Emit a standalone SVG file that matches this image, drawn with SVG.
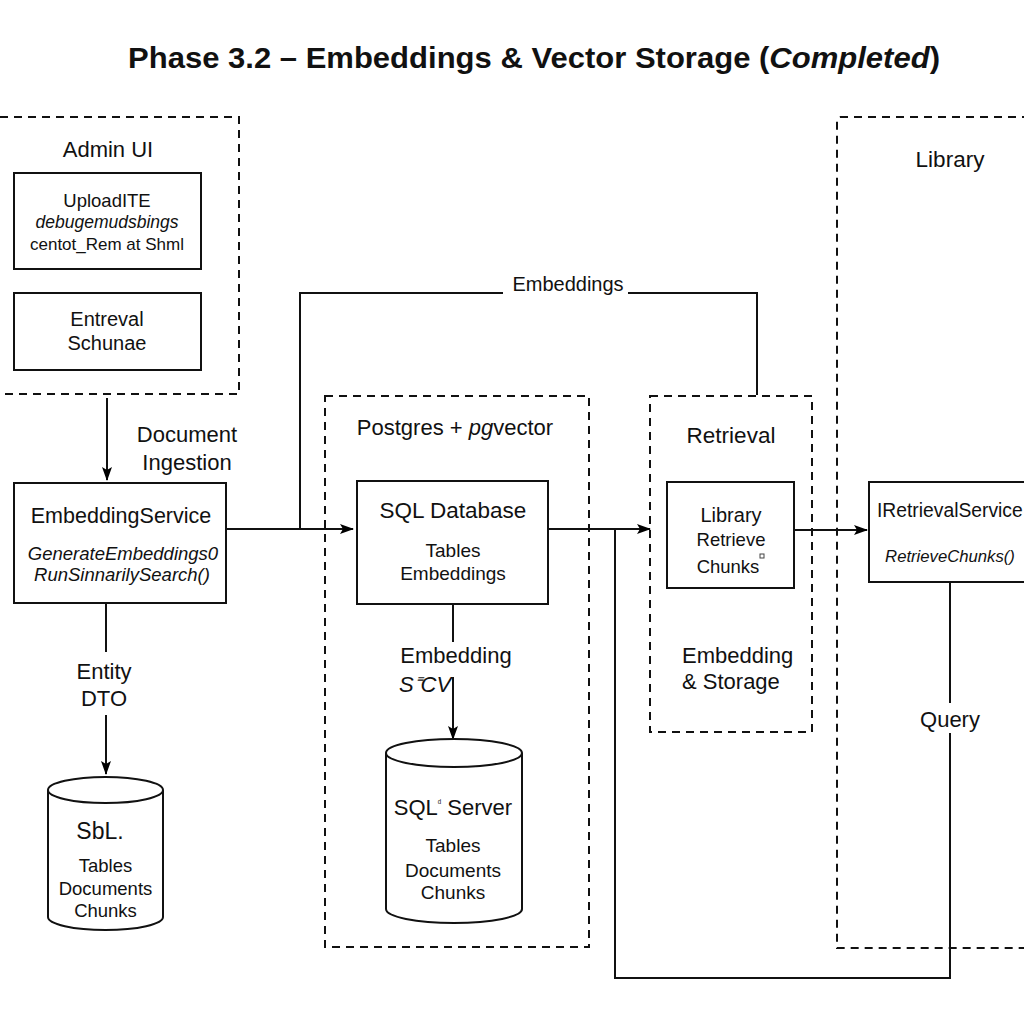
<svg xmlns="http://www.w3.org/2000/svg" width="1024" height="1024" viewBox="0 0 1024 1024">
<defs>
<marker id="arr" viewBox="0 0 14 10" refX="13" refY="5" markerWidth="14" markerHeight="10" markerUnits="userSpaceOnUse" orient="auto">
<path d="M0,0 L14,5 L0,10 L3,5 z" fill="#000"/>
</marker>
<style>
text{font-family:"Liberation Sans",Arial,sans-serif;fill:#111;text-anchor:middle}
.t{font-size:29px;font-weight:bold}
.g{font-size:22px}
.m{font-size:18.5px}
.i{font-style:italic}
.dash{fill:none;stroke:#111;stroke-width:2;stroke-dasharray:8 6}
.box{fill:#fff;stroke:#111;stroke-width:2}
.ln{fill:none;stroke:#111;stroke-width:2}
.ar{fill:none;stroke:#111;stroke-width:2;marker-end:url(#arr)}
</style>
</defs>
<rect width="1024" height="1024" fill="#fff"/>
<text class="t" x="534" y="68" textLength="812" lengthAdjust="spacingAndGlyphs">Phase 3.2 – Embeddings &amp; Vector Storage (<tspan class="i">Completed</tspan>)</text>

<g id="connectors">
<path class="ar" d="M107,398 V480"/>
<path class="ar" d="M226,529 H353"/>
<path class="ln" d="M300,529 V293 H503"/>
<path class="ln" d="M628,293 H757 V395"/>
<path class="ln" d="M106,603 V652"/>
<path class="ar" d="M106,715 V774"/>
<path class="ln" d="M453,604 V642"/>
<path class="ar" d="M453,677 V739"/>
<path class="ar" d="M548,529 H650"/>
<path class="ln" d="M615,529 V978 H950 V733"/>
<path class="ln" d="M950,582 V703"/>
<path class="ar" d="M794,530 H867"/>
<text class="g" x="568" y="291" style="font-size:20px">Embeddings</text>
<text class="g" x="187" y="442">Document</text>
<text class="g" x="187" y="470">Ingestion</text>
<text class="g" x="104" y="679">Entity</text>
<text class="g" x="104" y="706">DTO</text>
<text class="g" x="456" y="663">Embedding</text>
<text class="g i" x="425" y="692">S⁼CV</text>
<text class="g" x="950" y="727">Query</text>
</g>

<g id="admin-ui">
<path class="dash" d="M0,117 H239 V394 H0"/>
<text class="g" x="108" y="157">Admin UI</text>
</g>
<g id="upload">
<rect class="box" x="14" y="173" width="187" height="96"/>
<text class="m" x="107" y="207">UploadITE</text>
<text class="m i" x="107" y="228" style="font-size:17.5px">debugemudsbings</text>
<text class="m" x="107" y="250" style="font-size:17px">centot_Rem at Shml</text>
</g>
<g id="entreval">
<rect class="box" x="14" y="293" width="187" height="77"/>
<text class="g" x="107" y="326" style="font-size:20px">Entreval</text>
<text class="g" x="107" y="350" style="font-size:20px">Schunae</text>
</g>
<g id="embedding-service">
<rect class="box" x="14" y="483" width="212" height="120"/>
<text class="g" x="121" y="523" style="font-size:21.5px">EmbeddingService</text>
<text class="m i" x="123" y="560">GenerateEmbeddings0</text>
<text class="m i" x="122" y="581">RunSinnarilySearch()</text>
</g>
<g id="sql-cyl">
<path class="box" d="M48,790 V917 A57.5,13 0 0 0 163,917 V790"/>
<ellipse class="box" cx="105.5" cy="790" rx="57.5" ry="13"/>
<text class="g" x="100" y="839" style="font-size:23px">SbL.</text>
<text class="m" x="105.5" y="872">Tables</text>
<text class="m" x="105.5" y="895">Documents</text>
<text class="m" x="105.5" y="917">Chunks</text>
</g>

<g id="postgres">
<rect class="dash" x="325" y="396" width="264" height="551"/>
<text class="g" x="455" y="435">Postgres + <tspan class="i">pg</tspan>vector</text>
</g>
<g id="sql-database">
<rect class="box" x="357" y="481" width="191" height="123"/>
<text class="g" x="453" y="518" style="font-size:22.5px">SQL Database</text>
<text class="m" x="453" y="557" style="font-size:19px">Tables</text>
<text class="m" x="453" y="580" style="font-size:19px">Embeddings</text>
</g>
<g id="sql-server">
<path class="box" d="M386,753 V909 A68,14 0 0 0 522,909 V753"/>
<ellipse class="box" cx="454" cy="753" rx="68" ry="14"/>
<text class="g" x="453" y="815">SQL<tspan style="font-size:9px" dy="-9">ᵈ</tspan><tspan dy="9"> Server</tspan></text>
<text class="m" x="453" y="852" style="font-size:19px">Tables</text>
<text class="m" x="453" y="877" style="font-size:19px">Documents</text>
<text class="m" x="453" y="899" style="font-size:19px">Chunks</text>
</g>

<g id="retrieval">
<rect class="dash" x="650" y="396" width="162" height="336"/>
<text class="g" x="731" y="443" style="font-size:22.5px">Retrieval</text>
<text class="g" x="682" y="663" style="text-anchor:start">Embedding</text>
<text class="g" x="682" y="689" style="text-anchor:start">&amp; Storage</text>
</g>
<g id="library-retrieve">
<rect class="box" x="667" y="482" width="127" height="106"/>
<text class="m" x="731" y="522" style="font-size:20px">Library</text>
<text class="m" x="731" y="546">Retrieve</text>
<text class="m" x="728" y="573">Chunks</text>
<rect x="760" y="554" width="4" height="4" fill="none" stroke="#444" stroke-width="1"/>
</g>

<g id="library">
<path class="dash" d="M1030,117 H841 Q837,117 837,121 V948 H1030"/>
<text class="g" x="950" y="167" style="font-size:22.5px">Library</text>
</g>
<g id="iretrieval-service">
<rect class="box" x="869" y="482" width="170" height="100"/>
<text class="m" x="877" y="517" style="font-size:19.3px;text-anchor:start">IRetrievalService</text>
<text class="m i" x="950" y="562" style="font-size:16.7px">RetrieveChunks()</text>
</g>
</svg>
